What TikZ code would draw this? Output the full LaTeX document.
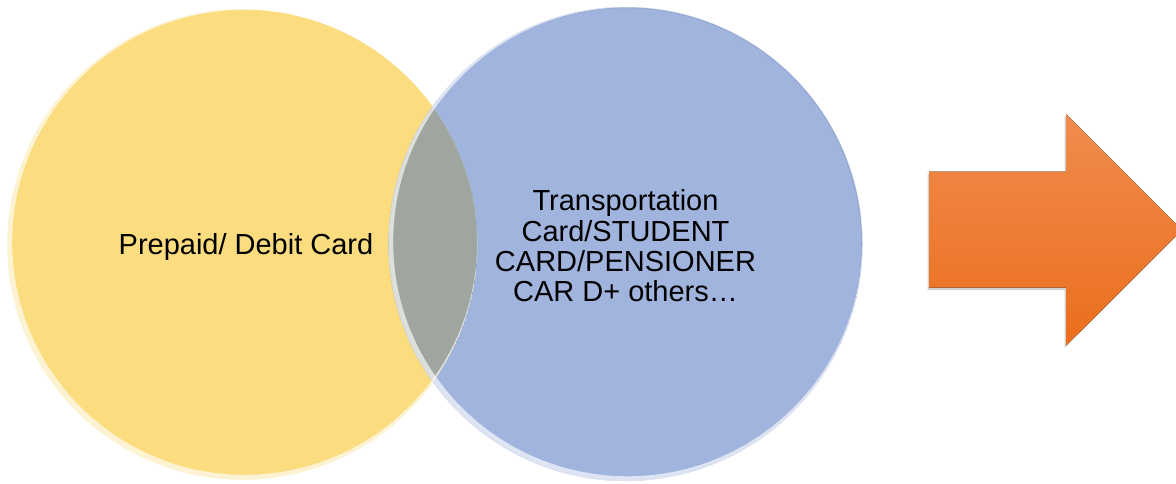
\documentclass[tikz,border=0pt]{standalone}
\usepackage{fontspec}
\setmainfont{Liberation Sans}
\begin{document}
\begin{tikzpicture}[x=1pt,y=-1pt]
\definecolor{yel}{RGB}{251,220,127}
\definecolor{blu}{RGB}{161,180,222}
\definecolor{ovl}{RGB}{159,166,159}
\definecolor{orgT}{RGB}{241,140,78}
\definecolor{orgB}{RGB}{234,110,28}
\tikzset{
  lbl/.style={font=\fontsize{29}{30.4}\selectfont, align=center, text=black, inner sep=0pt},
  rim/.style={white, opacity=0.65, even odd rule}
}
\useasboundingbox (0,0) rectangle (1176,483);
\fill[white] (0,0) rectangle (1176,483);
\coordinate (c1) at (242.5,244.5);
\coordinate (c2) at (625.5,244);
% circles
\fill[yel] (c1) circle (235pt);
\fill[blu] (c2) circle (237pt);
\begin{scope}
  \clip (c1) circle (235pt);
  \fill[ovl] (c2) circle (237pt);
\end{scope}
\draw[blu!70!black, opacity=0.25, line width=0.6pt] (c2) circle (236pt);
% rim highlights
\begin{scope}
  \clip (c1) circle (235pt);
  \fill[rim] (c1) circle (235pt) ([shift={(2.2,-2.2)}]c1) circle (232.5pt);
\end{scope}
\begin{scope}
  \clip (c2) circle (237pt);
  \fill[rim] (c2) circle (237pt) ([shift={(2.2,-2.2)}]c2) circle (234.5pt);
\end{scope}
% labels
\node[lbl] (left) at (246,247) {Prepaid/ Debit Card};
\node[lbl] (right) at (625.5,246) {Transportation\\Card/STUDENT\\CARD/PENSIONER\\CAR D+ others\ldots};
% arrow
\begin{scope}
  \clip (0,0) rectangle (1176,483);
  \fill[black, opacity=0.18] (927.5,174) -- (1064.5,174) -- (1064.5,116) -- (1180.5,232) -- (1064.5,348) -- (1064.5,290) -- (927.5,290) -- cycle;
  \fill[top color=orgT, bottom color=orgB] (929,171.7) -- (1066,171.7) -- (1066,114) -- (1182,230) -- (1066,345.7) -- (1066,287.7) -- (929,287.7) -- cycle;
\end{scope}
\end{tikzpicture}
\end{document}
